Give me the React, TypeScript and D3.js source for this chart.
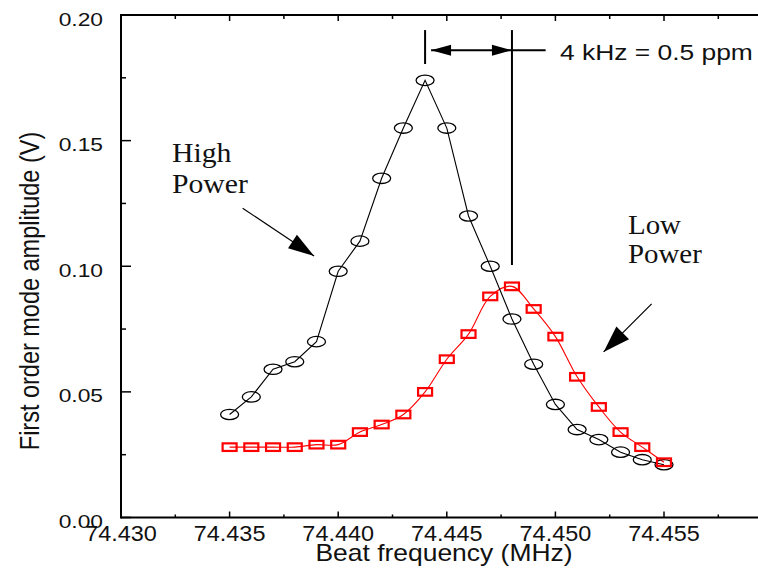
import React from "react";
import * as d3 from "d3";

const freqs = [74.435, 74.436, 74.437, 74.438, 74.439, 74.440, 74.441, 74.442, 74.443, 74.444, 74.445, 74.446, 74.447, 74.448, 74.449, 74.450, 74.451, 74.452, 74.453, 74.454, 74.455];
const highPower = [0.041, 0.048, 0.059, 0.062, 0.070, 0.098, 0.110, 0.135, 0.155, 0.174, 0.155, 0.120, 0.100, 0.079, 0.061, 0.045, 0.035, 0.031, 0.026, 0.023, 0.021];
const lowPower = [0.028, 0.028, 0.028, 0.028, 0.029, 0.029, 0.034, 0.037, 0.041, 0.050, 0.063, 0.073, 0.088, 0.092, 0.083, 0.072, 0.056, 0.044, 0.034, 0.028, 0.022];
const xMajorTicks = [74.430, 74.435, 74.440, 74.445, 74.450, 74.455];
const xMinorTicks = [74.4325, 74.4375, 74.4425, 74.4475, 74.4525, 74.4575];
const yMajorTicks = [0.0, 0.05, 0.10, 0.15, 0.20];
const yMinorTicks = [0.025, 0.075, 0.125, 0.175];

const W = 758, H = 568;
const left = 121, top = 15, bottom = 517.5;
const x = d3.scaleLinear().domain([74.430, 74.455]).range([left, 664]);
const y = d3.scaleLinear().domain([0, 0.2]).range([bottom, top]);

function arrowHead(x1: number, y1: number, x2: number, y2: number, L: number, hw: number) {
  const dx = x2 - x1, dy = y2 - y1;
  const len = Math.hypot(dx, dy);
  const ux = dx / len, uy = dy / len;
  const bx = x2 - ux * L, by = y2 - uy * L;
  const px = -uy, py = ux;
  return `M${x2},${y2}L${bx + px * hw},${by + py * hw}L${bx - px * hw},${by - py * hw}Z`;
}

export default function App() {
  const lineBlack = d3.line<number>().x((_, i) => x(freqs[i])).y((d) => y(d)).curve(d3.curveLinear);
  const lineRed = d3.line<number>().x((_, i) => x(freqs[i])).y((d) => y(d)).curve(d3.curveCatmullRom.alpha(0.5));

  const hiArrow = { x1: x(74.4356), y1: y(0.1231), x2: x(74.43889), y2: y(0.1041) };
  const loArrow = { x1: x(74.45443), y1: y(0.0850), x2: x(74.45222), y2: y(0.0659) };
  const v1 = x(74.444), v2 = x(74.448);
  const yArr = y(0.186);

  const sans = "'Liberation Sans', Arial, Helvetica, sans-serif";
  const serif = "'Liberation Serif', 'Times New Roman', serif";

  return (
    <svg width={W} height={H} style={{ position: "absolute", left: 0, top: 0, background: "#fff" }}>
      <rect x={0} y={0} width={W} height={H} fill="#fff" />
      {/* frame */}
      <line x1={left} y1={top} x2={W} y2={top} stroke="#000" strokeWidth={2} />
      <line x1={left} y1={bottom} x2={W} y2={bottom} stroke="#000" strokeWidth={2} />
      <line x1={left} y1={top - 1} x2={left} y2={bottom + 1} stroke="#000" strokeWidth={2} />
      {/* x ticks */}
      {xMajorTicks.map((t) => (
        <g key={"xm" + t}>
          <line x1={x(t)} x2={x(t)} y1={bottom} y2={bottom - 6} stroke="#000" strokeWidth={1.5} />
          <line x1={x(t)} x2={x(t)} y1={top} y2={top + 6} stroke="#000" strokeWidth={1.5} />
          <g transform={`translate(${x(t)},541) scale(1.065,1)`}>
            <text textAnchor="middle" fontFamily={sans} fontSize={22} fill="#111">{t.toFixed(3)}</text>
          </g>
        </g>
      ))}
      {xMinorTicks.map((t) => (
        <g key={"xn" + t}>
          <line x1={x(t)} x2={x(t)} y1={bottom} y2={bottom - 3} stroke="#000" strokeWidth={1.5} />
          <line x1={x(t)} x2={x(t)} y1={top} y2={top + 4} stroke="#000" strokeWidth={1.5} />
        </g>
      ))}
      {/* y ticks */}
      {yMajorTicks.map((t) => (
        <g key={"ym" + t}>
          <line x1={left} x2={left + 10} y1={y(t)} y2={y(t)} stroke="#000" strokeWidth={1.5} />
          <g transform={`translate(103,${y(t) + 10.5}) scale(1.2,1)`}>
            <text textAnchor="end" fontFamily={sans} fontSize={19} fill="#111">{t.toFixed(2)}</text>
          </g>
        </g>
      ))}
      {yMinorTicks.map((t) => (
        <line key={"yn" + t} x1={left} x2={left + 5} y1={y(t)} y2={y(t)} stroke="#000" strokeWidth={1.5} />
      ))}
      {/* axis titles */}
      <g transform={`translate(444,561) scale(1.15,1)`}>
        <text textAnchor="middle" fontFamily={sans} fontSize={23} fill="#111">Beat frequency (MHz)</text>
      </g>
      <g transform={`translate(39,291) scale(1.2,1) rotate(-90)`}>
        <text textAnchor="middle" fontFamily={sans} fontSize={23.5} fill="#111">First order mode amplitude (V)</text>
      </g>
      {/* data lines */}
      <path d={lineRed(lowPower) || ""} fill="none" stroke="#ff0000" strokeWidth={1.1} />
      <path d={lineBlack(highPower) || ""} fill="none" stroke="#000" strokeWidth={1.1} />
      {highPower.map((v, i) => (
        <ellipse key={"c" + i} cx={x(freqs[i])} cy={y(v)} rx={9} ry={5.2} fill="none" stroke="#000" strokeWidth={1.3} />
      ))}
      {lowPower.map((v, i) => (
        <rect key={"s" + i} x={x(freqs[i]) - 7} y={y(v) - 3.8} width={14} height={7.6} fill="none" stroke="#ff0000" strokeWidth={2.2} />
      ))}
      {/* 4 kHz annotation */}
      <line x1={v1} x2={v1} y1={y(0.194)} y2={y(0.1805)} stroke="#000" strokeWidth={2} />
      <line x1={v2} x2={v2} y1={y(0.194)} y2={y(0.1005)} stroke="#000" strokeWidth={2} />
      <line x1={v1 + 6} x2={x(74.44955)} y1={yArr} y2={yArr} stroke="#000" strokeWidth={2} />
      <path d={arrowHead(v1 + 30, yArr, v1 + 6, yArr, 20, 5.5)} fill="#000" />
      <path d={arrowHead(v2 - 30, yArr, v2, yArr, 20, 5.5)} fill="#000" />
      <g transform={`translate(560,60) scale(1.2,1)`}>
        <text fontFamily={sans} fontSize={22} fill="#111">4 kHz = 0.5 ppm</text>
      </g>
      {/* High power label and arrow */}
      <g transform={`translate(172,161.5) scale(1.1,1)`}>
        <text fontFamily={serif} fontSize={27} fill="#111">High</text>
        <text y={31.5} fontFamily={serif} fontSize={27} fill="#111">Power</text>
      </g>
      <line x1={hiArrow.x1} y1={hiArrow.y1} x2={hiArrow.x2} y2={hiArrow.y2} stroke="#000" strokeWidth={1.2} />
      <path d={arrowHead(hiArrow.x1, hiArrow.y1, hiArrow.x2, hiArrow.y2, 26, 8)} fill="#000" />
      {/* Low power label and arrow */}
      <g transform={`translate(628,233.5) scale(1.07,1)`}>
        <text fontFamily={serif} fontSize={27} fill="#111">Low</text>
        <text y={30} fontFamily={serif} fontSize={27} fill="#111">Power</text>
      </g>
      <line x1={loArrow.x1} y1={loArrow.y1} x2={loArrow.x2} y2={loArrow.y2} stroke="#000" strokeWidth={1.2} />
      <path d={arrowHead(loArrow.x1, loArrow.y1, loArrow.x2, loArrow.y2, 27, 9)} fill="#000" />
    </svg>
  );
}
